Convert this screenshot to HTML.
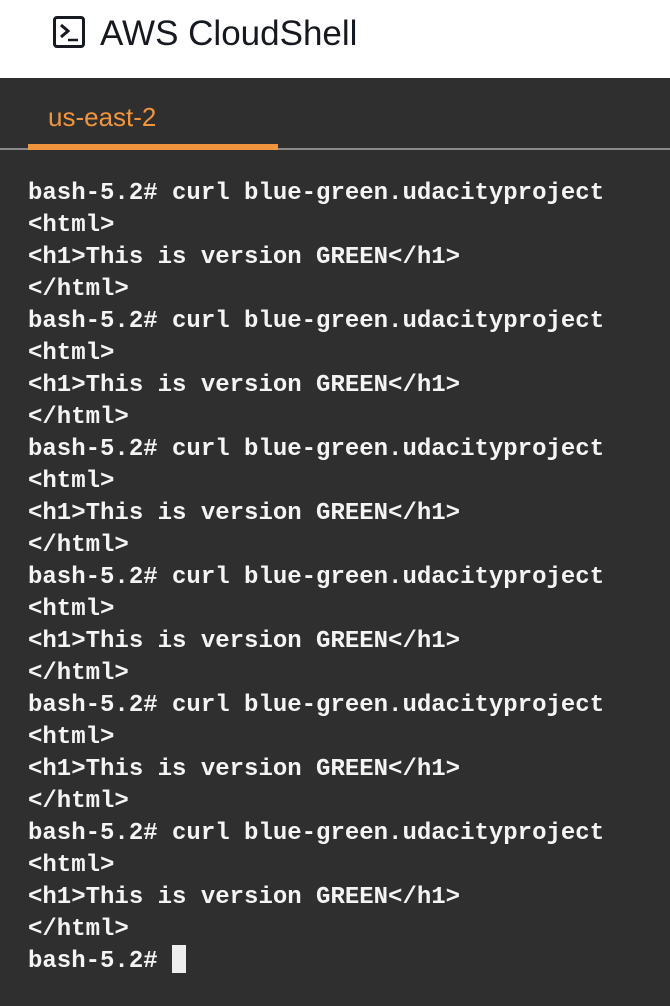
<!DOCTYPE html>
<html><head><meta charset="utf-8"><style>
html,body{margin:0;padding:0;width:670px;height:1006px;overflow:hidden;background:#2f2f2f;}
.hdr{position:absolute;left:0;top:0;width:670px;height:78px;background:#fff;}
.icon{position:absolute;left:53px;top:16px;width:26px;height:26px;border:3px solid #16191f;border-radius:4px;}
.title{position:absolute;left:100px;top:13px;font:35px "Liberation Sans",sans-serif;color:#16191f;line-height:42px;}
.tab{position:absolute;left:48px;top:100px;font:26px "Liberation Sans",sans-serif;color:#f0953e;line-height:34px;}
.line{position:absolute;left:0;top:148px;width:670px;height:2px;background:#8a8a8a;}
.ul{position:absolute;left:28px;top:144px;width:250px;height:6px;background:#f0953e;}
pre{position:absolute;left:28px;top:178px;margin:0;font:bold 24px/32px "Liberation Mono",monospace;color:#f4f4f4;}
.cur{position:absolute;left:172px;top:945px;width:14px;height:28px;background:#eeeeee;}
</style></head><body>
<div class="hdr">
<div class="icon"><svg width="26" height="26" style="position:absolute;left:0;top:0"><polyline points="5,6 12,12 5,18" fill="none" stroke="#16191f" stroke-width="3"/><line x1="12" y1="21" x2="22" y2="21" stroke="#16191f" stroke-width="2.5"/></svg></div>
<div class="title">AWS CloudShell</div>
</div>
<div class="tab">us-east-2</div>
<div class="line"></div>
<div class="ul"></div>
<pre>bash-5.2# curl blue-green.udacityproject
&lt;html&gt;
&lt;h1&gt;This is version GREEN&lt;/h1&gt;
&lt;/html&gt;
bash-5.2# curl blue-green.udacityproject
&lt;html&gt;
&lt;h1&gt;This is version GREEN&lt;/h1&gt;
&lt;/html&gt;
bash-5.2# curl blue-green.udacityproject
&lt;html&gt;
&lt;h1&gt;This is version GREEN&lt;/h1&gt;
&lt;/html&gt;
bash-5.2# curl blue-green.udacityproject
&lt;html&gt;
&lt;h1&gt;This is version GREEN&lt;/h1&gt;
&lt;/html&gt;
bash-5.2# curl blue-green.udacityproject
&lt;html&gt;
&lt;h1&gt;This is version GREEN&lt;/h1&gt;
&lt;/html&gt;
bash-5.2# curl blue-green.udacityproject
&lt;html&gt;
&lt;h1&gt;This is version GREEN&lt;/h1&gt;
&lt;/html&gt;
bash-5.2# </pre>
<div class="cur"></div>
</body></html>
